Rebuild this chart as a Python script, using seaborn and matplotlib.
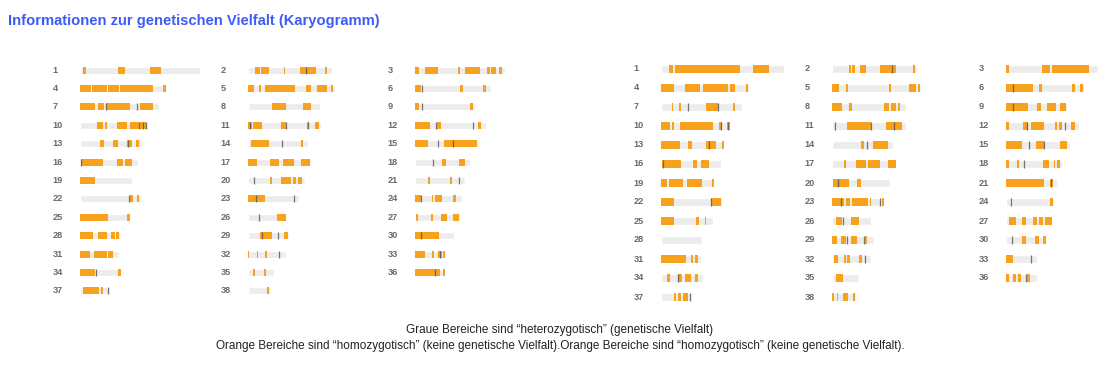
import pandas as pd
import matplotlib
matplotlib.use("Agg")
import matplotlib.pyplot as plt
import seaborn as sns

# Chromosome ids and lengths (Mb)
chrom_ids = list(range(1, 39))
chrom_len = [122.7, 85.4, 91.9, 88.3, 88.9, 77.6, 80.9, 74.1, 61.1, 69.3,
             74.4, 72.5, 63.2, 60.9, 64.3, 59.6, 64.3, 55.8, 53.1, 58.1,
             50.9, 61.4, 52.3, 47.7, 51.6, 38.9, 45.9, 41.2, 41.8, 40.2,
             39.8, 38.8, 31.4, 42.1, 26.5, 30.8, 31.0, 23.9]

# Orange (homozygous) runs per chromosome - left karyogram
left_orange = [
    [(2.7, 6.1), (38.9, 46.4), (71.2, 82.5)],
    [(7.5, 12.3), (13, 21.8), (36.8, 38.2), (53.2, 59), (59.3, 69.5), (79, 81)],
    [(0.3, 3.7), (9.9, 23.5), (44, 46), (51, 66.5), (73.3, 76.7), (77.7, 82.8), (86.2, 88.6)],
    [(0, 10.9), (11.9, 27.3), (28.3, 39.5), (40.9, 57.9), (58.6, 75), (85.2, 88.3)],
    [(0, 6.1), (10.9, 13), (17.4, 48), (59.3, 64), (70.9, 81.1), (84.5, 86.6)],
    [(0.3, 6.5), (46, 49.4), (69.5, 72.6)],
    [(0, 15.7), (18.1, 24.5), (26.6, 51.1), (61, 75)],
    [(24.5, 38.9), (56.6, 64)],
    [(0.3, 4.4), (56.2, 59.6)],
    [(17.4, 23.2), (25.9, 27.3), (37.8, 48.4), (51.1, 60.3), (61.3, 67.5)],
    [(0, 4.5), (5.5, 14), (33.4, 38.9), (60.7, 62.7), (68.5, 72.9)],
    [(0.3, 15.3), (22.2, 26.6), (64.4, 67.1)],
    [(20.4, 24.5), (33.4, 38.9), (48.4, 52.8), (57.3, 60.3)],
    [(2.7, 21.8), (54.5, 56.2)],
    [(0.3, 13.3), (29.3, 63)],
    [(0.7, 23.9), (37.5, 43.6), (45.7, 52.8)],
    [(0, 8.9), (22.5, 31.4), (35.4, 47), (54.5, 63.4)],
    [(27.3, 31.7), (45, 51.5)],
    [(0, 15.3)],
    [(22.5, 24.5), (33.4, 43.6), (45.7, 49.1), (51.1, 55.2)],
    [(13, 15), (35.8, 37.8)],
    [(51.1, 53.9), (57.9, 60.3)],
    [(0, 17.4)],
    [(0.3, 6.5), (17, 18.7), (20.8, 27.6), (38.9, 41.9)],
    [(0, 29), (47.7, 51.6)],
    [(30, 38.9)],
    [(0.7, 3.4), (16, 18), (26.9, 32.4), (38.5, 45.3)],
    [(0, 13), (18.1, 27.3), (31.7, 35.4), (37.2, 40.2)],
    [(12.3, 24.2), (37.2, 40.9)],
    [(0.3, 24.9)],
    [(0, 10.2), (14.7, 27.3), (28.6, 33.4)],
    [(0, 1.4), (9.2, 10.6), (17.4, 19.1)],
    [(0.3, 9.9), (17.7, 19.1), (23.2, 27.3), (29, 31)],
    [(0, 15.3), (38.5, 41.9)],
    [(5.5, 7.5), (16, 18.4)],
    [(0.3, 25.6), (28.6, 30.7)],
    [(3.4, 19.4), (21.1, 23.9)],
    [(19.1, 21.8)],
]

left_marks = [[], [59], [], [], [], [7.5], [26.2, 57.9], [], [7.5], [60.3, 64.7, 67.5],
              [2, 38.6, 61.3], [21.5, 59], [49.4], [34.4], [23.2, 38.5], [1.4], [], [18.1], [], [6.1],
              [45.3], [50.4], [7.8, 47.4], [6.5], [], [10.9], [], [], [14.7, 31], [6.5],
              [], [32], [25.6], [16.4], [], [20.1], [28.3], []]

# Orange (homozygous) runs per chromosome - right karyogram
right_orange = [
    [(7.7, 11.7), (13.7, 79), (92.3, 107.7)],
    [(17.3, 19), (20.3, 22.7), (28, 34), (47.7, 64.3), (81, 83)],
    [(0, 3.3), (35.7, 44), (46.3, 83)],
    [(0, 13), (23.7, 27.7), (28.3, 39), (41.7, 67.3), (69, 74), (85, 86.7)],
    [(0, 7.3), (13.7, 16.3), (57, 59), (77, 83.7), (86.3, 88.3)],
    [(0, 27.3), (32.7, 36), (65.7, 69.3), (74.3, 76.7)],
    [(11, 12.3), (18, 20.3), (44.7, 57.3), (72.3, 74)],
    [(0, 9.7), (17.3, 19.7), (51.7, 57), (58.7, 63.7), (66, 68.3)],
    [(0, 22), (31, 35), (40.7, 50), (53.7, 60)],
    [(0, 9), (11.3, 13.3), (19, 52.3), (58.3, 61.3), (66.3, 69)],
    [(15.3, 38.7), (53.7, 70.3)],
    [(0, 3), (16.7, 22), (25.3, 38.3), (49.3, 50.7), (53, 56), (64.7, 69)],
    [(0, 19), (27, 31), (45, 54.7), (60.7, 63)],
    [(28.7, 32), (41, 55.7)],
    [(0, 16.3), (30, 38.3), (54.3, 61)],
    [(0.7, 20.3), (31.7, 35.7), (40.3, 48.3)],
    [(12, 14.3), (24, 33.7), (36.3, 47.7), (55.7, 64.3)],
    [(0, 3), (11.3, 13.3), (36.7, 43.3), (47.7, 49.3), (51.3, 54)],
    [(0, 6.3), (8, 21.7), (25.7, 40.7), (50.7, 52.5)],
    [(0.7, 17), (25.3, 28.7)],
    [(0, 38), (44, 46.7)],
    [(0, 13), (50.3, 59.7)],
    [(0, 12.3), (14.3, 18.3), (19.7, 35.7), (37.7, 39), (49.7, 52.3)],
    [(44, 46.7)],
    [(0, 13), (35.3, 38.3), (43.7, 45.3)],
    [(3.7, 10.3), (19, 27)],
    [(2.7, 10), (16, 20), (27.3, 31.3), (32.7, 37.3), (38.7, 45.7)],
    [],
    [(0, 5), (9.3, 14.3), (19, 25), (32.7, 35.3)],
    [(16, 20), (29, 33), (37.3, 40)],
    [(0, 25), (29.7, 31.7), (34.3, 36.7)],
    [(2.3, 6), (11.7, 14.3), (15.3, 18), (27, 29.7)],
    [(0, 7.3)],
    [(6.3, 9), (17.3, 21.3), (24, 29.7), (34, 36.7)],
    [(4.3, 10.7)],
    [(0, 2.7), (7.3, 10), (12.3, 14.7), (21.3, 24)],
    [(13, 15), (17.3, 19.7), (22.3, 27)],
    [(0, 1.7), (4.7, 6.3), (11, 16.3), (17.7, 18.3), (21, 22.7)],
]

right_marks = [[], [60], [], [], [], [7.3], [27, 57.3], [], [7.3], [59.7, 67],
               [3, 39, 62.3], [20.7, 59.3], [48.3], [35], [22.7, 37.7], [1.7], [], [18], [], [6.3],
               [45.3], [49.7], [8.7, 48.3], [5.3], [], [11], [], [], [15.3, 31.7], [5.7],
               [], [33], [25], [16.7], [], [19.7], [29], []]

title = "Informationen zur genetischen Vielfalt (Karyogramm)"
note_lines = ["Graue Bereiche sind \u201cheterozygotisch\u201d (genetische Vielfalt)",
              "Orange Bereiche sind \u201chomozygotisch\u201d (keine genetische Vielfalt).Orange Bereiche sind \u201chomozygotisch\u201d (keine genetische Vielfalt)."]

GRAY = "#ececec"
ORANGE = "#f7a11c"
MARK = "#555555"
W, H = 1120, 378

sns.set_style("white")
plt.rcParams['font.family'] = ['Liberation Sans', 'DejaVu Sans']

fig = plt.figure(figsize=(W / 100, H / 100), dpi=100)

panels = [
    # (orange, marks, column x starts in px, px per Mb, top px, bottom px)
    (left_orange, left_marks, [80, 248, 415], 0.978, 60.8, 300.2),
    (right_orange, right_marks, [661, 832, 1006], 1.0, 59.5, 306.5),
]
xmax = [124, 90, 93]
bh = 0.38

for orange, marks, xs, scale, top, bottom in panels:
    for col in range(3):
        idx = [i for i in range(len(chrom_ids)) if i % 3 == col]
        width_px = xmax[col] * scale
        ax = fig.add_axes([xs[col] / W, 1 - bottom / H, width_px / W, (bottom - top) / H])
        df = pd.DataFrame({"chrom": [str(chrom_ids[i]) for i in idx],
                           "length": [chrom_len[i] for i in idx]})
        sns.barplot(data=df, x="length", y="chrom", orient="h", color=GRAY,
                    saturation=1, width=bh, errorbar=None, ax=ax)
        for row, i in enumerate(idx):
            for s, e in orange[i]:
                ax.barh(row, e - s, left=s, height=bh, color=ORANGE, linewidth=0)
            if marks[i]:
                ax.vlines(marks[i], row - bh / 2, row + bh / 2, color=MARK, lw=0.9, alpha=0.8)
            ax.annotate(str(chrom_ids[i]), xy=(0, row), xycoords=("axes fraction", "data"),
                        xytext=(-19.8, 0), textcoords="offset points", ha="left", va="center",
                        fontsize=6.6, fontweight="bold", color="#6a6a6a")
        ax.set_xlim(0, xmax[col])
        ax.set_ylim(12.5, -0.5)
        ax.set_axis_off()

fig.text(8 / W, 1 - 21 / H, title, fontsize=10.65, fontweight="bold", color="#3d5cf5",
         ha="left", va="center")
fig.text(560 / W, 1 - 330 / H, note_lines[0], fontsize=8.5, color="#222222", ha="center", va="center")
fig.text(560 / W, 1 - 346 / H, note_lines[1], fontsize=8.5, color="#222222", ha="center", va="center")

fig.savefig("out.png", dpi=100, facecolor="white")
